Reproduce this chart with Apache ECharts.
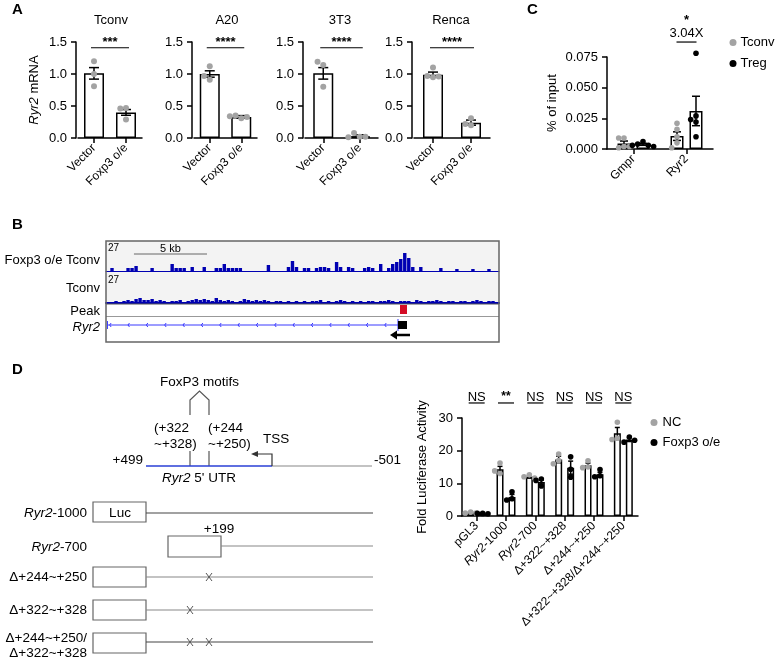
<!DOCTYPE html>
<html><head><meta charset="utf-8">
<script src="https://cdn.jsdelivr.net/npm/echarts@6/dist/echarts.min.js"></script>
<style>html,body{margin:0;padding:0;background:#fff}#c{width:779px;height:658px}</style>
</head><body><div id="c"></div>
<script>
const FONT = "'Liberation Sans', Arial, Helvetica, sans-serif";
// ---------- Panel A ----------
const aTitles = ['Tconv', 'A20', '3T3', 'Renca'];
const aCats = ['Vector', 'Foxp3 o/e'];
const aMeans = [[1.01, 0.40], [1.00, 0.33], [1.01, 0.03], [0.99, 0.24]];
const aSems = [[0.09, 0.045], [0.05, 0.02], [0.09, 0.02], [0.04, 0.04]];
const aPoints = [
  [[1.20, 1.00, 0.81], [0.47, 0.46, 0.29]],
  [[1.12, 0.91, 0.97], [0.31, 0.35, 0.33, 0.34]],
  [[1.14, 1.19, 0.80], [0.02, 0.08, 0.02, 0.01]],
  [[0.95, 1.10, 0.97, 0.96], [0.31, 0.20, 0.22]]
];
const aStars = ['***', '****', '****', '****'];
// ---------- Panel C ----------
const cCats = ['Gmpr', 'Ryr2'];
const cTconvMean = [0.0045, 0.0105];
const cTconvSem = [0.002, 0.0035];
const cTregMean = [0.0038, 0.031];
const cTregSem = [0.0008, 0.012];
const cTconvPts = [[0.009, 0.009, 0.002, 0.001, 0.002], [0.021, 0.016, 0.010, 0.005, 0.001]];
const cTregPts = [[0.006, 0.004, 0.003, 0.003, 0.002], [0.078, 0.027, 0.024, 0.022, 0.010]];
const cStar = '*';
const cFold = '3.04X';
// ---------- Panel B ----------
const bTrackMax = 27;
const bSpanKb = 27;
const bFoxp3Track = [0,3,0,0,0,3,3,5,0,0, 0,3,0,0,0,0,7,3,3,3, 0,4,0,0,4,0,0,3,3,7,
  3,3,3,3,0,0,0,0,0,0, 6,0,0,0,0,4,10,4,0,3, 3,0,3,4,4,3,0,9,4,0,
  4,3,0,0,3,4,3,0,7,0, 3,7,9,12,18,13,4,0,4,0, 0,0,0,3,0,0,0,2,0,0, 0,2,0,0,0,2,0,0];
const bTconvTrack = [1,1,2,1,2,3,2,4,5,3, 3,4,2,3,2,1,2,2,3,1, 2,3,4,3,4,3,2,5,3,2,
  3,2,1,2,4,3,2,3,2,3, 2,1,2,2,1,2,1,2,1,2, 1,2,2,3,1,2,1,2,3,2,
  1,2,1,2,1,2,2,1,2,2, 3,2,1,2,2,2,1,3,2,1, 2,2,3,2,1,2,2,1,2,2, 1,2,3,2,1,2,2,1];
const bScaleBar = [1.92, 6.94];
const bPeak = [20.2, 20.68];
const bGene = [0.1, 20.06];
const bExon = [20.06, 20.68];
// ---------- Panel D ----------
const dCats = ['pGL3', 'Ryr2-1000', 'Ryr2-700', 'Δ+322~+328', 'Δ+244~+250', 'Δ+322~+328/Δ+244~+250'];
const dNcMean = [1.0, 14.3, 12.0, 17.3, 15.5, 25.3];
const dNcSem = [0.2, 0.9, 0.4, 1.0, 0.7, 1.8];
const dFoxMean = [0.8, 5.8, 10.4, 14.8, 12.8, 23.4];
const dFoxSem = [0.1, 0.8, 0.6, 2.0, 0.6, 0.6];
const dNcPts = [[1.2, 0.9, 0.9], [16.2, 13.0, 13.8], [12.6, 12.0, 11.6], [19.0, 17.0, 16.0], [16.9, 15.0, 14.8], [28.7, 23.8, 23.4]];
const dFoxPts = [[0.8, 0.8, 0.7], [7.4, 5.3, 4.9], [11.3, 10.9, 9.2], [18.1, 14.3, 11.9], [14.2, 12.3, 12.0], [24.2, 22.6, 23.2]];
const dSig = ['NS', '**', 'NS', 'NS', 'NS', 'NS'];

const GRAY = '#a3a3a3';
const IGV = '#0000b2';

// ---------- helpers ----------
const axisLineStyle = { color: '#000', width: 1.5 };
function catAxis(gi, data, extra) {
  return Object.assign({
    gridIndex: gi, type: 'category', data: data,
    axisLine: { show: true, lineStyle: axisLineStyle },
    axisTick: { show: true, alignWithLabel: true, length: 5, lineStyle: axisLineStyle },
    axisLabel: { rotate: 45, fontSize: 12, color: '#000', fontFamily: FONT, margin: 8 },
    splitLine: { show: false }
  }, extra || {});
}
function valAxis(gi, min, max, interval, fmt, name, nameGap, extra) {
  return Object.assign({
    gridIndex: gi, type: 'value', min: min, max: max, interval: interval,
    axisLine: { show: true, lineStyle: axisLineStyle },
    axisTick: { show: true, length: 5, lineStyle: axisLineStyle },
    axisLabel: { fontSize: 13, color: '#000', fontFamily: FONT, margin: 9, formatter: fmt },
    splitLine: { show: false },
    name: name, nameLocation: 'middle', nameGap: nameGap,
    nameTextStyle: { fontSize: 13, color: '#000', fontFamily: FONT,
      rich: { i: { fontSize: 13, fontStyle: 'italic', color: '#000', fontFamily: FONT } } }
  }, extra || {});
}
function barSeries(ai, means, width, gap) {
  return { type: 'bar', xAxisIndex: ai, yAxisIndex: ai, data: means, barWidth: width, barGap: gap || '30%',
    itemStyle: { color: '#fff', borderColor: '#000', borderWidth: 1.5 }, silent: true, z: 2 };
}
function errSeries(ai, means, sems, offset, cap) {
  return { type: 'custom', xAxisIndex: ai, yAxisIndex: ai, z: 5, silent: true,
    data: means.map((m, i) => [i, m, sems[i]]), encode: { x: 0, y: 1 },
    renderItem(params, api) {
      const i = api.value(0), m = api.value(1), s = api.value(2);
      const top = api.coord([i, m + s]), bot = api.coord([i, Math.max(0, m - s)]);
      const x = top[0] + offset;
      const st = { stroke: '#000', lineWidth: 1.5 };
      return { type: 'group', children: [
        { type: 'line', shape: { x1: x, y1: top[1], x2: x, y2: bot[1] }, style: st },
        { type: 'line', shape: { x1: x - cap, y1: top[1], x2: x + cap, y2: top[1] }, style: st },
        { type: 'line', shape: { x1: x - cap, y1: bot[1], x2: x + cap, y2: bot[1] }, style: st }
      ] };
    } };
}
function ptsSeries(ai, pts, color, offset, r, name) {
  return { type: 'custom', name: name, xAxisIndex: ai, yAxisIndex: ai, z: 6, silent: true,
    itemStyle: { color: color },
    data: pts.map((p, i) => [i, p[0]]), encode: { x: 0, y: 1 },
    renderItem(params, api) {
      const ci = api.value(0);
      const vals = pts[params.dataIndex];
      const cx = api.coord([ci, 0])[0] + offset;
      const placed = [];
      const kids = vals.map(v => {
        const y = api.coord([ci, v])[1];
        let dx = 0;
        for (const c of [0, -1, 1, -2, 2, -3, 3]) {
          const x = c * r * 1.9;
          if (placed.every(p => Math.hypot(p[0] - x, p[1] - y) >= 2 * r * 0.95)) { dx = x; break; }
        }
        placed.push([dx, y]);
        return { type: 'circle', shape: { cx: cx + dx, cy: y, r: r }, style: { fill: color } };
      });
      return { type: 'group', children: kids };
    } };
}
const rich = { i: { fontStyle: 'italic', fontSize: 12, color: '#000', fontFamily: FONT } };
function italRyr(v) { return v.indexOf('Ryr2') === 0 ? '{i|Ryr2}' + v.slice(4) : v; }

// ---------- grids ----------
const grids = [
  { left: 78, top: 42, width: 64, height: 96 },
  { left: 194, top: 42, width: 63, height: 96 },
  { left: 305, top: 42, width: 73, height: 96 },
  { left: 414, top: 42, width: 76, height: 96 },
  { left: 607, top: 57, width: 106, height: 92 },
  { left: 106, top: 244, width: 393, height: 27 },
  { left: 106, top: 276, width: 393, height: 27 },
  { left: 106, top: 241, width: 393, height: 101 },
  { left: 462, top: 418, width: 176, height: 98 }
].map(g => Object.assign({ outerBoundsMode: 'none', containLabel: false }, g));
const aYOffset = 2;

const xAxes = [], yAxes = [], series = [];
// Panel A
for (let k = 0; k < 4; k++) {
  xAxes.push(catAxis(k, aCats));
  yAxes.push(valAxis(k, 0, 1.5, 0.5, v => v.toFixed(1), k === 0 ? '{i|Ryr2} mRNA' : '', 35, { offset: aYOffset }));
  series.push(barSeries(k, aMeans[k], 20));
  series.push(errSeries(k, aMeans[k], aSems[k], 0, 5));
  series.push(ptsSeries(k, aPoints[k], GRAY, 0, 3, undefined));
  const stars = aStars[k];
  series.push({ type: 'custom', xAxisIndex: k, yAxisIndex: k, silent: true, clip: false, z: 7,
    data: [[0, 1.41]], encode: { x: 0, y: 1 },
    renderItem(params, api) {
      const p0 = api.coord([0, 1.41]), p1 = api.coord([1, 1.41]);
      return { type: 'group', children: [
        { type: 'line', shape: { x1: p0[0] - 3, y1: p0[1], x2: p1[0] + 3, y2: p0[1] }, style: { stroke: '#000', lineWidth: 1.2 } },
        { type: 'text', x: (p0[0] + p1[0]) / 2, y: p0[1] + 1, style: { text: stars, fontSize: 13, fontWeight: 'bold', fontFamily: FONT, fill: '#000', align: 'center', verticalAlign: 'bottom' } }
      ] };
    } });
}
// Panel C
xAxes.push(catAxis(4, cCats));
yAxes.push(valAxis(4, 0, 0.075, 0.025, v => v.toFixed(3), '% of input', 48));
series.push(barSeries(4, cTconvMean, 13, '46%'));
series.push(barSeries(4, cTregMean, 13, '46%'));
series.push(errSeries(4, cTconvMean, cTconvSem, -9.5, 4));
series.push(errSeries(4, cTregMean, cTregSem, 9.5, 4));
series.push(ptsSeries(4, cTconvPts, GRAY, -9.5, 2.8, 'Tconv'));
series.push(ptsSeries(4, cTregPts, '#000', 9.5, 2.8, 'Treg'));
series.push({ type: 'custom', xAxisIndex: 4, yAxisIndex: 4, silent: true, clip: false, z: 7,
  data: [[1, 0.0872]], encode: { x: 0, y: 1 },
  renderItem(params, api) {
    const p = api.coord([api.value(0), api.value(1)]);
    return { type: 'group', children: [
      { type: 'line', shape: { x1: p[0] - 10, y1: p[1], x2: p[0] + 10, y2: p[1] }, style: { stroke: '#000', lineWidth: 1.2 } },
      { type: 'text', x: p[0], y: p[1] - 9, style: { text: cFold, fontSize: 13, fontFamily: FONT, fill: '#000', align: 'center', verticalAlign: 'middle' } },
      { type: 'text', x: p[0], y: p[1] - 22, style: { text: cStar, fontSize: 13, fontWeight: 'bold', fontFamily: FONT, fill: '#000', align: 'center', verticalAlign: 'middle' } }
    ] };
  } });
// Panel B tracks
const bins = bFoxp3Track.map((_, i) => i);
[[5, bFoxp3Track, 1], [6, bTconvTrack, 2]].forEach(([gi, arr, lw]) => {
  xAxes.push({ gridIndex: gi, type: 'category', data: bins, boundaryGap: true,
    axisLine: { show: true, lineStyle: { color: IGV, width: lw } }, axisTick: { show: false }, axisLabel: { show: false } });
  yAxes.push({ gridIndex: gi, type: 'value', min: 0, max: bTrackMax, show: false });
  series.push({ type: 'bar', xAxisIndex: gi, yAxisIndex: gi, data: arr, barCategoryGap: '15%',
    itemStyle: { color: IGV }, silent: true, z: 3 });
});
// Panel B annotation (scale bar, peak, gene)
xAxes.push({ gridIndex: 7, type: 'value', min: 0, max: bSpanKb, show: false });
yAxes.push({ gridIndex: 7, type: 'value', min: 0, max: 1, show: false });
series.push({ type: 'custom', xAxisIndex: 7, yAxisIndex: 7, silent: true, clip: false, z: 8,
  data: [[0, 0]], encode: { x: 0, y: 1 },
  renderItem(params, api) {
    const cs = params.coordSys;
    const X = kb => api.coord([kb, 0])[0];
    const kids = [];
    const sb0 = X(bScaleBar[0]), sb1 = X(bScaleBar[1]);
    kids.push({ type: 'line', shape: { x1: sb0, y1: cs.y + 13, x2: sb1, y2: cs.y + 13 }, style: { stroke: '#666', lineWidth: 1 } });
    kids.push({ type: 'text', x: (sb0 + sb1) / 2, y: cs.y + 8, style: { text: (bScaleBar[1] - bScaleBar[0]).toFixed(0) + ' kb', fontSize: 11, fontFamily: FONT, fill: '#000', align: 'center', verticalAlign: 'middle' } });
    kids.push({ type: 'rect', shape: { x: X(bPeak[0]), y: cs.y + 64, width: X(bPeak[1]) - X(bPeak[0]), height: 9 }, style: { fill: '#d40c25' } });
    const gy = cs.y + 84;
    const g0 = X(bGene[0]), g1 = X(bGene[1]);
    kids.push({ type: 'line', shape: { x1: g0, y1: gy, x2: g1, y2: gy }, style: { stroke: '#3a3aff', lineWidth: 1 } });
    kids.push({ type: 'line', shape: { x1: g0, y1: gy - 4, x2: g0, y2: gy + 4 }, style: { stroke: '#3a3aff', lineWidth: 1 } });
    for (let kb = bGene[0] + 0.15; kb < bGene[1] - 0.3; kb += 1.26) {
      const x = X(kb);
      kids.push({ type: 'polyline', shape: { points: [[x + 1.5, gy - 2], [x, gy], [x + 1.5, gy + 2]] }, style: { stroke: '#3a3aff', lineWidth: 1, fill: null } });
    }
    kids.push({ type: 'line', shape: { x1: g1, y1: gy - 6, x2: g1, y2: gy + 6 }, style: { stroke: '#3a3aff', lineWidth: 1 } });
    kids.push({ type: 'rect', shape: { x: X(bExon[0]), y: gy - 4, width: X(bExon[1]) - X(bExon[0]), height: 8 }, style: { fill: '#000' } });
    const ay = cs.y + 94;
    const a0 = X(bExon[1]) + 3, a1 = X(bGene[1]) - 8;
    kids.push({ type: 'line', shape: { x1: a0, y1: ay, x2: a1 + 4, y2: ay }, style: { stroke: '#000', lineWidth: 2.5 } });
    kids.push({ type: 'polygon', shape: { points: [[a1, ay], [a1 + 7, ay - 4.5], [a1 + 7, ay + 4.5]] }, style: { fill: '#000' } });
    return { type: 'group', children: kids };
  } });
// Panel D
xAxes.push(catAxis(8, dCats, { axisLabel: { rotate: 45, fontSize: 12, color: '#000', fontFamily: FONT, margin: 8, formatter: italRyr, rich: rich } }));
yAxes.push(valAxis(8, 0, 30, 10, v => String(v), 'Fold Luciferase Activity', 33));
series.push(barSeries(8, dNcMean, 7, '71%'));
series.push(barSeries(8, dFoxMean, 7, '71%'));
series.push(errSeries(8, dNcMean, dNcSem, -6, 2.5));
series.push(errSeries(8, dFoxMean, dFoxSem, 6, 2.5));
series.push(ptsSeries(8, dNcPts, GRAY, -6, 2.8, 'NC'));
series.push(ptsSeries(8, dFoxPts, '#000', 6, 2.8, 'Foxp3 o/e'));
series.push({ type: 'custom', xAxisIndex: 8, yAxisIndex: 8, silent: true, clip: false, z: 7,
  data: dSig.map((s, i) => [i, 34.6]), encode: { x: 0, y: 1 },
  renderItem(params, api) {
    const p = api.coord([api.value(0), api.value(1)]);
    const s = dSig[params.dataIndex];
    return { type: 'group', children: [
      { type: 'line', shape: { x1: p[0] - 8, y1: p[1], x2: p[0] + 8, y2: p[1] }, style: { stroke: '#000', lineWidth: 1.2 } },
      { type: 'text', x: p[0], y: p[1] - 6, style: { text: s, fontSize: s === 'NS' ? 13 : 12, fontWeight: s === 'NS' ? 'normal' : 'bold', fontFamily: FONT, fill: '#000', align: 'center', verticalAlign: 'middle' } }
    ] };
  } });

// ---------- graphic (labels, frames, schematic) ----------
const G = [];
function txt(x, y, text, size, align, extra) {
  G.push({ type: 'text', x: x, y: y, z: 20, style: Object.assign({ text: text, fontSize: size, fontFamily: FONT, fill: '#000', align: align || 'left', verticalAlign: 'middle',
    rich: { i: { fontStyle: 'italic', fontSize: size, fontFamily: FONT, fill: '#000' } } }, extra || {}) });
}
function ln(x1, y1, x2, y2, color, w) {
  G.push({ type: 'line', z: 20, shape: { x1, y1, x2, y2 }, style: { stroke: color || '#555', lineWidth: w || 1.2 } });
}
function xmark(x, y) { ln(x - 3, y - 4, x + 3, y + 4, '#555', 1); ln(x + 3, y - 4, x - 3, y + 4, '#555', 1); }
// panel letters
txt(12, 10, 'A', 15, 'left', { fontWeight: 'bold' });
txt(527, 10, 'C', 15, 'left', { fontWeight: 'bold' });
txt(12, 225, 'B', 15, 'left', { fontWeight: 'bold' });
txt(12, 370, 'D', 15, 'left', { fontWeight: 'bold' });
// panel A titles
const aCenters = [111, 227, 340, 451];
aTitles.forEach((t, k) => txt(aCenters[k], 20, t, 13, 'center'));
// panel B frame and labels
G.push({ type: 'rect', z: -5, shape: { x: 106, y: 241, width: 393, height: 63 }, style: { fill: '#f3f3f3' } });
ln(106, 304, 499, 304, '#555', 1);
ln(106, 316.5, 499, 316.5, '#999', 1);
G.push({ type: 'rect', z: 30, shape: { x: 106, y: 241, width: 393, height: 101 }, style: { fill: null, stroke: '#666', lineWidth: 1.5 } });
txt(108, 248, String(bTrackMax), 10, 'left');
txt(108, 280, String(bTrackMax), 10, 'left');
txt(100, 260, 'Foxp3 o/e Tconv', 13, 'right');
txt(100, 288, 'Tconv', 13, 'right');
txt(100, 311, 'Peak', 13, 'right');
txt(100, 327, '{i|Ryr2}', 13, 'right');
// panel D schematic
G.push({ type: 'polyline', z: 20, shape: { points: [[190, 415], [190, 400], [199.5, 391], [209, 400], [209, 415]] }, style: { stroke: '#555', lineWidth: 1.2, fill: null } });
ln(190, 451, 190, 466, '#555', 1.2);
ln(209, 451, 209, 466, '#555', 1.2);
ln(146, 466, 272, 466, '#2a3fd6', 1.6);
ln(272, 466, 372, 466, '#888', 1.2);
G.push({ type: 'polyline', z: 20, shape: { points: [[272, 466], [272, 454], [257, 454]] }, style: { stroke: '#333', lineWidth: 1.2, fill: null } });
G.push({ type: 'polygon', z: 20, shape: { points: [[251, 454], [258, 451], [258, 457]] }, style: { fill: '#333' } });
txt(199.5, 382, 'FoxP3 motifs', 13.5, 'center');
txt(154, 428, '(+322', 13.5, 'left');
txt(154, 444, '~+328)', 13.5, 'left');
txt(208, 428, '(+244', 13.5, 'left');
txt(208, 444, '~+250)', 13.5, 'left');
txt(263, 439, 'TSS', 13.5, 'left');
txt(143, 460, '+499', 13.5, 'right');
txt(374, 460, '-501', 13.5, 'left');
txt(199, 478, "{i|Ryr2} 5' UTR", 13.5, 'center');
// constructs
function box(x, y, w, h) { G.push({ type: 'rect', z: 20, shape: { x, y, width: w, height: h }, style: { fill: '#fff', stroke: '#666', lineWidth: 1.2 } }); }
box(93, 502, 53, 20); txt(120, 513, 'Luc', 13.5, 'center'); ln(146, 513, 373, 513, '#444', 1.2);
txt(87, 513, '{i|Ryr2}-1000', 13.5, 'right');
box(168, 536, 53, 21); txt(219, 529, '+199', 13.5, 'center'); ln(221, 546, 373, 546, '#888', 1.2);
txt(87, 547, '{i|Ryr2}-700', 13.5, 'right');
box(93, 567, 53, 20); ln(146, 577, 373, 577, '#888', 1.2); xmark(209, 577);
txt(87, 577, 'Δ+244~+250', 13.5, 'right');
box(93, 600, 53, 20); ln(146, 610, 373, 610, '#888', 1.2); xmark(190, 610);
txt(87, 610, 'Δ+322~+328', 13.5, 'right');
box(93, 633, 53, 20); ln(146, 642, 373, 642, '#444', 1.2); xmark(190, 642); xmark(209, 642);
txt(87, 638, 'Δ+244~+250/', 13.5, 'right');
txt(87, 653, 'Δ+322~+328', 13.5, 'right');

const option = {
  backgroundColor: '#fff',
  animation: false,
  textStyle: { fontFamily: FONT },
  grid: grids,
  xAxis: xAxes,
  yAxis: yAxes,
  series: series,
  legend: [
    { data: [{ name: 'Tconv', icon: 'circle' }, { name: 'Treg', icon: 'circle' }], left: 729.5, top: 36, orient: 'vertical', padding: 0,
      itemWidth: 7, itemHeight: 7, itemGap: 8, selectedMode: false, textStyle: { fontSize: 13, color: '#000', fontFamily: FONT, padding: [0, 0, 0, -1] } },
    { data: [{ name: 'NC', icon: 'circle' }, { name: 'Foxp3 o/e', icon: 'circle' }], left: 650.5, top: 416, orient: 'vertical', padding: 0,
      itemWidth: 7, itemHeight: 7, itemGap: 7, selectedMode: false, textStyle: { fontSize: 13, color: '#000', fontFamily: FONT } }
  ],
  graphic: { elements: G }
};
const chart = echarts.init(document.getElementById('c'), null, { renderer: 'canvas' });
chart.setOption(option);
</script></body></html>
